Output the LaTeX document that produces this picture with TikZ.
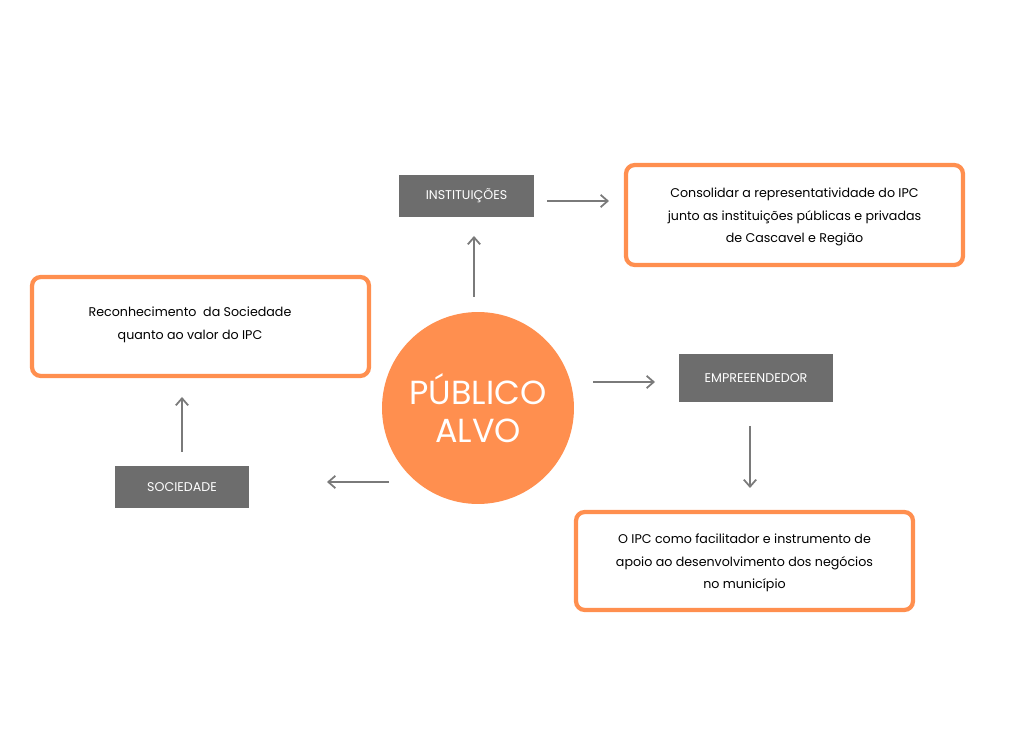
\documentclass[tikz,border=0pt]{standalone}
\usepackage{fontspec}
\setmainfont{Poppins}
\usetikzlibrary{arrows.meta}
\definecolor{ipcorange}{HTML}{FF8F4F}
\definecolor{ipcgray}{HTML}{6D6D6D}
\definecolor{ipcline}{HTML}{7A7A7A}
\begin{document}
\begin{tikzpicture}[x=0.02cm, y=-0.02cm,
    tag/.style={fill=ipcgray, text=white, inner sep=0pt, font=\fontsize{7.2}{9}\selectfont},
    goal/.style={draw=ipcorange, line width=2.4pt, rounded corners=5pt, fill=white},
    goaltext/.style={align=center, font=\fontsize{7.2}{12.8}\selectfont},
    link/.style={draw=ipcline, line width=1pt, -{Straight Barb[length=4pt,width=7pt]}}]
    %--------------------%
    % Canvas
    %--------------------%
    \useasboundingbox (0,0) rectangle (1012,756);

    %--------------------%
    % Centre
    %--------------------%
    \node[circle, fill=ipcorange, minimum size=3.84cm, text=white, align=center,
        font=\fontsize{19}{22}\selectfont] (publico) at (478,408) {PÚBLICO\\ALVO};

    %--------------------%
    % Audience Tags
    %--------------------%
    \node[tag, minimum width=2.7cm, minimum height=0.84cm] (inst) at (466.5,196) {INSTITUIÇÕES};
    \node[tag, minimum width=3.08cm, minimum height=0.96cm] (empre) at (756,378) {EMPREEENDEDOR};
    \node[tag, minimum width=2.68cm, minimum height=0.84cm] (soc) at (182,487) {SOCIEDADE};

    %--------------------%
    % Goals
    %--------------------%
    \draw[goal] (626,165) rectangle (963,265);
    \node[goaltext] (goalinst) at (794.5,217) {Consolidar a representatividade do IPC\\junto as instituições públicas e privadas\\de Cascavel e Região};
    \draw[goal] (32,277) rectangle (369,376);
    \node[goaltext] (goalsoc) at (190,325) {Reconhecimento\ \ da Sociedade\\quanto ao valor do IPC};
    \draw[goal] (576,512) rectangle (913,610);
    \node[goaltext] (goalempre) at (744.5,563) {O IPC como facilitador e instrumento de\\apoio ao desenvolvimento dos negócios\\no município};

    %--------------------%
    % Connections
    %--------------------%
    \coordinate (a1) at (474,297); \coordinate (a2) at (474,236);
    \coordinate (b1) at (547,201); \coordinate (b2) at (609,201);
    \coordinate (c1) at (593,382); \coordinate (c2) at (655,382);
    \coordinate (d1) at (750,426); \coordinate (d2) at (750,488);
    \coordinate (e1) at (389,482); \coordinate (e2) at (327,482);
    \coordinate (f1) at (182,452); \coordinate (f2) at (182,397);
    \draw[link] (a1) -- (a2);
    \draw[link] (b1) -- (b2);
    \draw[link] (c1) -- (c2);
    \draw[link] (d1) -- (d2);
    \draw[link] (e1) -- (e2);
    \draw[link] (f1) -- (f2);
\end{tikzpicture}
\end{document}
